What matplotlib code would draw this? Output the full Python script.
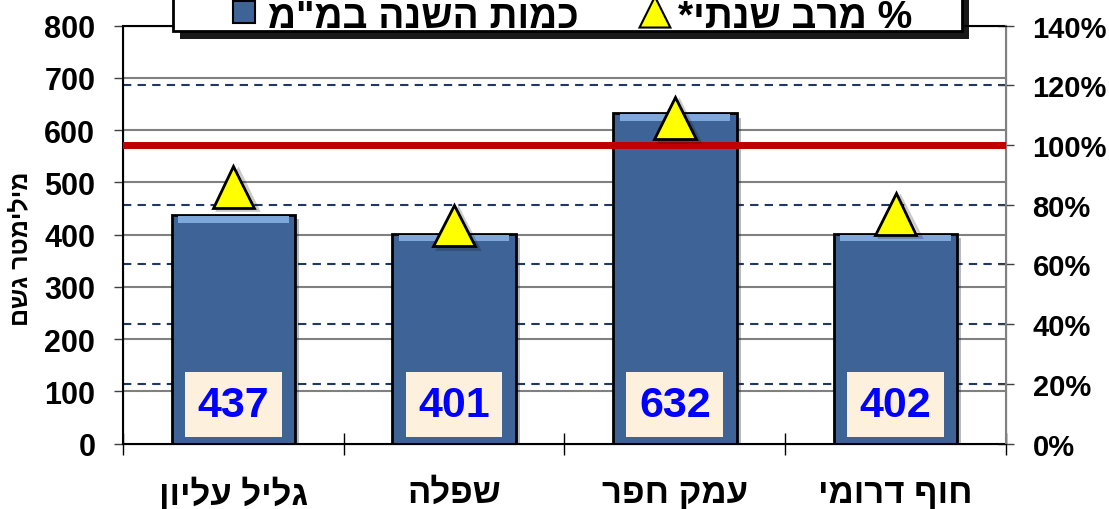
import numpy as np
import matplotlib.pyplot as plt
import matplotlib.patches as mpatches
import matplotlib.patheffects as pe
from matplotlib.legend_handler import HandlerPatch
from matplotlib.transforms import blended_transform_factory

plt.rcParams['font.family'] = ['Liberation Sans', 'DejaVu Sans']
plt.rcParams['font.weight'] = 'bold'

regions = ["גליל עליון", "שפלה", "עמק חפר", "חוף דרומי"]
rain_mm = [437, 401, 632, 402]
pct_of_max = [86, 73, 109, 77]

left_ticks = [0, 100, 200, 300, 400, 500, 600, 700, 800]
right_ticks = [0, 20, 40, 60, 80, 100, 120, 140]

bar_label = 'כמות השנה במ"מ'
tri_label = "% מרב שנתי*"
y_label = "מילימטר גשם"


def vis(s):
    # matplotlib has no bidi support, so reverse the Hebrew by hand
    return s[::-1]


def square_right(legend, orig_handle, xdescent, ydescent, width, height,
                 fontsize):
    s = height * 0.88
    return mpatches.Rectangle((-xdescent + width - s - 4, -ydescent + (height - s) / 2 + 1),
                              s, s)


def triangle_right(legend, orig_handle, xdescent, ydescent, width, height,
                   fontsize):
    s = height * 1.25
    x0 = -xdescent + width - s
    y0 = -ydescent + (height - s) / 2 + 1
    return mpatches.Polygon([(x0, y0), (x0 + s, y0), (x0 + s / 2, y0 + s)],
                            closed=True)


x = np.arange(len(regions))

fig = plt.figure(figsize=(11.09, 5.10), dpi=100)
ax = fig.add_axes([0.111, 0.128, 0.796, 0.82])
ax2 = ax.twinx()

ax.set_xlim(-0.5, len(regions) - 0.5)
ax.set_ylim(0, 800)
ax2.set_ylim(0, 140)

# grid lines (behind bars)
ax.set_yticks(left_ticks)
for t in left_ticks[1:-1]:
    ax.axhline(t, color="#808080", lw=1.5, zorder=0)
tr = blended_transform_factory(ax.transAxes, ax2.transData)
for t in right_ticks[1:-1]:
    ax.plot([0, 1], [t, t], transform=tr, color="#1F3864", lw=1.5,
            ls=(0, (4, 3)), zorder=0.5)

bars = ax.bar(x, rain_mm, width=0.56, color="#3E6497", edgecolor="black",
              lw=2, zorder=2)
for b in bars:
    b.set_path_effects([pe.SimplePatchShadow(offset=(3, -3), alpha=0.3),
                        pe.Normal()])
# bevel highlight on top of each bar
ax.bar(x, [12] * len(x), bottom=np.array(rain_mm) - 14, width=0.5,
       color="#7FA8DA", zorder=3)

for xi, v in zip(x, rain_mm):
    ax.text(xi, 75, str(v), ha="center", va="center", fontsize=31,
            color="#0000FF", fontweight="bold", zorder=5,
            bbox=dict(facecolor="#FDF0DC", edgecolor="none", pad=9))

ax2.axhline(100, color="#C00000", lw=5, zorder=3)
ax2.plot(x, pct_of_max, ls="none", marker="^", markersize=30,
         markerfacecolor="#FFFF00", markeredgecolor="black",
         markeredgewidth=2, zorder=4,
         path_effects=[pe.SimpleLineShadow(offset=(3, -2), alpha=0.2),
                       pe.Normal()])

ax.set_xticks(x, [vis(r) for r in regions], fontsize=25, fontweight="bold")
ax.tick_params(axis="x", length=0, pad=23)
ax.set_xticks(np.arange(-0.5, len(regions)), minor=True)
ax.tick_params(axis="x", which="minor", length=16, direction="inout",
               width=1, color="black")
ax.tick_params(axis="y", labelsize=22, length=6.5, width=1, color="#404040",
               pad=13.5)
ax.set_yticklabels([str(t) for t in left_ticks], fontweight="bold")
ax.set_ylabel(vis(y_label), fontsize=18, fontweight="bold")
ax.yaxis.set_label_coords(-0.103, 0.468)

ax2.set_yticks(right_ticks)
ax2.set_yticklabels([f"{t}%" for t in right_ticks], fontweight="bold")
ax2.tick_params(axis="y", labelsize=21, length=11.5, direction="inout",
                width=1, color="#404040", pad=13.5)

for s in ["top", "left", "bottom"]:
    ax.spines[s].set_color("black")
    ax.spines[s].set_linewidth(1.5)
ax2.spines["right"].set_color("#808080")
ax2.spines["right"].set_linewidth(1.5)

# legend box (top of it runs off the figure, as in the original)
box = mpatches.Rectangle((173 / 1109, 1 - 32 / 510), (962 - 173) / 1109, 0.2,
                         transform=fig.transFigure, facecolor="white",
                         edgecolor="black", lw=2, zorder=4)
box.set_path_effects([pe.SimplePatchShadow(offset=(5, -6), shadow_rgbFace="black",
                                           alpha=0.9), pe.Normal()])
fig.add_artist(box)

h_bar = mpatches.Patch(facecolor="#3E6497", edgecolor="black", lw=1.5)
h_tri = mpatches.Patch(facecolor="#FFFF00", edgecolor="black", lw=1.5)
leg = fig.legend([h_bar, h_tri], [vis(bar_label), vis(tri_label)],
                 ncol=2, loc="lower center", bbox_to_anchor=(0.5153, 0.929),
                 prop=dict(size=28, weight="bold"), frameon=False,
                 handler_map={h_bar: HandlerPatch(patch_func=square_right),
                              h_tri: HandlerPatch(patch_func=triangle_right)},
                 handlelength=0.77, handleheight=0.6, handletextpad=0.2,
                 columnspacing=1.58, borderpad=0, borderaxespad=0)
leg.set_zorder(5)

fig.savefig("out.png", dpi=100)
